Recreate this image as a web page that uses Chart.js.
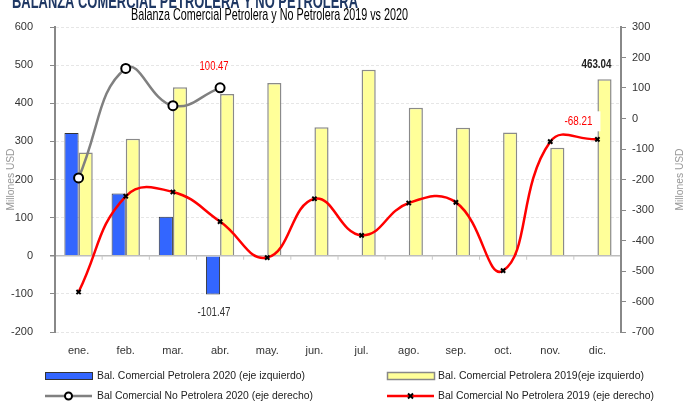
<!DOCTYPE html>
<html>
<head>
<meta charset="utf-8">
<script src="https://cdn.jsdelivr.net/npm/chart.js@4.4.1/dist/chart.umd.min.js"></script>
<style>
  html, body { margin: 0; padding: 0; background: #fff; }
  #wrap { position: relative; width: 698px; height: 408px; }
</style>
</head>
<body>
<div id="wrap"><canvas id="balanza-chart"></canvas></div>
<script>
var months = ["ene.", "feb.", "mar.", "abr.", "may.", "jun.", "jul.", "ago.", "sep.", "oct.", "nov.", "dic."];

// Petrolera (left axis)
var petrolera2020 = [322, 163, 102, -101.47, null, null, null, null, null, null, null, null];
var petrolera2019 = [271, 307, 442, 424, 453, 337, 488, 388, 336, 323, 283, 463.04];

// No petrolera (right axis)
var noPetrolera2020 = [-195, 164, 42, 100.47, null, null, null, null, null, null, null, null];
var noPetrolera2019 = [-569, -255, -241, -338, -456, -263, -383, -277, -275, -499, -76, -68.21];

var leftTicks = { min: -200, max: 600, step: 100 };
var rightTicks = { min: -700, max: 300, step: 100 };

var FONT = "'Liberation Sans Narrow', 'Arial Narrow', 'Liberation Sans', sans-serif";

// titles, axis titles, legend and value labels
var extras = {
    id: 'extras',
    beforeDraw: function(chart) {
        var c = chart.ctx;
        c.save();
        c.fillStyle = '#fff';
        c.fillRect(0, 0, chart.width, chart.height);
        c.restore();
    },
    afterDatasetsDraw: function(chart) {
        var c = chart.ctx;
        c.save();
        c.textAlign = 'center';
        c.textBaseline = 'middle';

        // value labels
        var labels = [
            { ds: 1, i: 3, text: '100.47', color: '#ff0000', dx: -6, dy: -21, w: 29 },
            { ds: 2, i: 3, text: '-101.47', color: '#333', dx: 1, dy: 18, w: 33, bottom: true },
            { ds: 3, i: 11, text: '463.04', color: '#222', dx: -8, dy: -15, w: 30, bold: true },
            { ds: 0, i: 11, text: '-68.21', color: '#ff0000', dx: -19, dy: -18, w: 28, box: true }
        ];
        labels.forEach(function(l) {
            var el = chart.getDatasetMeta(l.ds).data[l.i];
            var y = l.bottom ? Math.max(el.y, el.base) : el.y;
            var x = el.x + l.dx;
            y = y + l.dy;
            c.font = (l.bold ? 'bold ' : '') + '13px ' + FONT;
            if (l.box) {
                c.fillStyle = '#fff';
                c.fillRect(x - 14, y - 10, 36, 20);
            }
            c.fillStyle = l.color;
            c.fillText(l.text, x, y, l.w);
        });
        c.restore();
    },
    afterDraw: function(chart) {
        var c = chart.ctx;
        var area = chart.chartArea;
        c.save();

        // small boundary ticks on the zero line
        var ys = chart.scales.y, xs = chart.scales.x;
        var y0 = ys.getPixelForValue(0);
        c.strokeStyle = '#c8c8c8';
        c.lineWidth = 1;
        for (var i = 1; i < months.length; i++) {
            var bx = (xs.getPixelForValue(i - 1) + xs.getPixelForValue(i)) / 2;
            c.beginPath();
            c.moveTo(bx, y0);
            c.lineTo(bx, y0 + 4);
            c.stroke();
        }

        // titles
        c.textBaseline = 'alphabetic';
        c.textAlign = 'left';
        c.fillStyle = '#1f3864';
        c.font = 'bold 21px ' + FONT;
        c.fillText('BALANZA COMERCIAL PETROLERA Y NO PETROLERA', 12, 8, 346);
        c.fillStyle = '#000';
        c.font = '17px ' + FONT;
        c.fillText('Balanza Comercial Petrolera y No Petrolera 2019 vs 2020', 131, 20, 277);

        // axis titles
        c.fillStyle = '#999';
        c.font = '11px ' + FONT;
        c.textAlign = 'center';
        c.textBaseline = 'middle';
        var midY = (area.top + area.bottom) / 2;
        [11, 680].forEach(function(tx) {
            c.save();
            c.translate(tx, midY);
            c.rotate(-Math.PI / 2);
            c.fillText('Millones USD', 0, 0, 62);
            c.restore();
        });

        // legend
        var rows = [376, 396];
        // blue bar
        c.fillStyle = '#3366ff';
        c.fillRect(45, rows[0] - 3.5, 47, 7);
        c.strokeStyle = '#333';
        c.lineWidth = 1;
        c.strokeRect(45.5, rows[0] - 3.5, 47, 7);
        // yellow bar
        c.fillStyle = '#ffff99';
        c.fillRect(387, rows[0] - 3.5, 47, 7);
        c.strokeStyle = '#888';
        c.lineWidth = 1.5;
        c.strokeRect(387.5, rows[0] - 3.5, 47, 7);
        // gray line with circle
        c.strokeStyle = '#808080';
        c.lineWidth = 2.5;
        c.beginPath(); c.moveTo(45, rows[1]); c.lineTo(92, rows[1]); c.stroke();
        c.fillStyle = '#fff';
        c.strokeStyle = '#000';
        c.lineWidth = 2;
        c.beginPath(); c.arc(68.5, rows[1], 3.5, 0, Math.PI * 2); c.fill(); c.stroke();
        // red line with cross
        c.strokeStyle = '#ff0000';
        c.lineWidth = 2.5;
        c.beginPath(); c.moveTo(387, rows[1]); c.lineTo(434, rows[1]); c.stroke();
        c.strokeStyle = '#000';
        c.lineWidth = 2;
        c.beginPath();
        c.moveTo(408, rows[1] - 2.5); c.lineTo(413, rows[1] + 2.5);
        c.moveTo(413, rows[1] - 2.5); c.lineTo(408, rows[1] + 2.5);
        c.stroke();

        c.textAlign = 'left';
        c.fillStyle = '#222';
        c.font = '11px ' + FONT;
        c.fillText('Bal. Comercial Petrolera 2020 (eje izquierdo)', 97, rows[0], 208);
        c.fillText('Bal. Comercial Petrolera 2019(eje izquierdo)', 438, rows[0], 206);
        c.fillText('Bal Comercial No Petrolera 2020 (eje derecho)', 97, rows[1], 216);
        c.fillText('Bal Comercial No Petrolera 2019 (eje derecho)', 438, rows[1], 216);
        c.restore();
    }
};

var ctx = document.getElementById('balanza-chart').getContext('2d');
var chart = new Chart(ctx, {
    type: 'bar',
    data: {
        labels: months,
        datasets: [{
            type: 'line',
            label: 'Bal Comercial No Petrolera 2019 (eje derecho)',
            data: noPetrolera2019,
            yAxisID: 'y1',
            borderColor: '#ff0000',
            borderWidth: 2.5,
            tension: 0.45,
            pointStyle: 'crossRot',
            pointRadius: 3,
            pointBorderColor: '#000',
            pointBorderWidth: 2,
            order: 1
        }, {
            type: 'line',
            label: 'Bal Comercial No Petrolera 2020 (eje derecho)',
            data: noPetrolera2020,
            yAxisID: 'y1',
            borderColor: '#808080',
            borderWidth: 2.5,
            tension: 0.45,
            pointStyle: 'circle',
            pointRadius: 4.5,
            pointBackgroundColor: '#fff',
            pointBorderColor: '#000',
            pointBorderWidth: 2,
            order: 0
        }, {
            label: 'Bal. Comercial Petrolera 2020 (eje izquierdo)',
            data: petrolera2020,
            yAxisID: 'y',
            backgroundColor: '#3366ff',
            borderColor: '#333',
            borderWidth: 1,
            categoryPercentage: 0.6,
            barPercentage: 1.0,
            order: 2
        }, {
            label: 'Bal. Comercial Petrolera 2019(eje izquierdo)',
            data: petrolera2019,
            yAxisID: 'y',
            backgroundColor: '#ffff99',
            borderColor: '#8a8a8a',
            borderWidth: 1.5,
            categoryPercentage: 0.6,
            barPercentage: 1.0,
            order: 3
        }]
    },
    options: {
        responsive: true,
        maintainAspectRatio: false,
        animation: false,
        layout: { padding: { top: 27, left: 0, right: 0, bottom: 0 } },
        plugins: {
            legend: { display: false },
            title: { display: false },
            tooltip: { enabled: false }
        },
        scales: {
            x: {
                grid: { display: false },
                border: { display: false },
                ticks: { color: '#333', font: { family: FONT, size: 11 }, padding: 4, maxRotation: 0 },
                afterFit: function(s) { s.height = 76; }
            },
            y: {
                position: 'left',
                min: leftTicks.min,
                max: leftTicks.max,
                ticks: { stepSize: leftTicks.step, color: '#333', font: { family: FONT, size: 11 }, padding: 17 },
                grid: {
                    color: function(c) { return c.tick && c.tick.value === 0 ? '#bdbdbd' : '#e6e6e6'; },
                    lineWidth: function(c) { return c.tick && c.tick.value === 0 ? 1.5 : 1; },
                    tickColor: '#888',
                    tickLength: 5
                },
                border: {
                    color: '#888',
                    width: 2,
                    dash: function(c) { return c.tick && c.tick.value === 0 ? [] : [3, 2]; }
                },
                afterFit: function(s) { s.width = 55; }
            },
            y1: {
                position: 'right',
                min: rightTicks.min,
                max: rightTicks.max,
                ticks: { stepSize: rightTicks.step, color: '#333', font: { family: FONT, size: 11 }, padding: 6 },
                grid: { drawOnChartArea: false, tickColor: '#888', tickLength: 5 },
                border: { color: '#888', width: 2 },
                afterFit: function(s) { s.width = 77; }
            }
        }
    },
    plugins: [extras]
});
</script>
</body>
</html>
